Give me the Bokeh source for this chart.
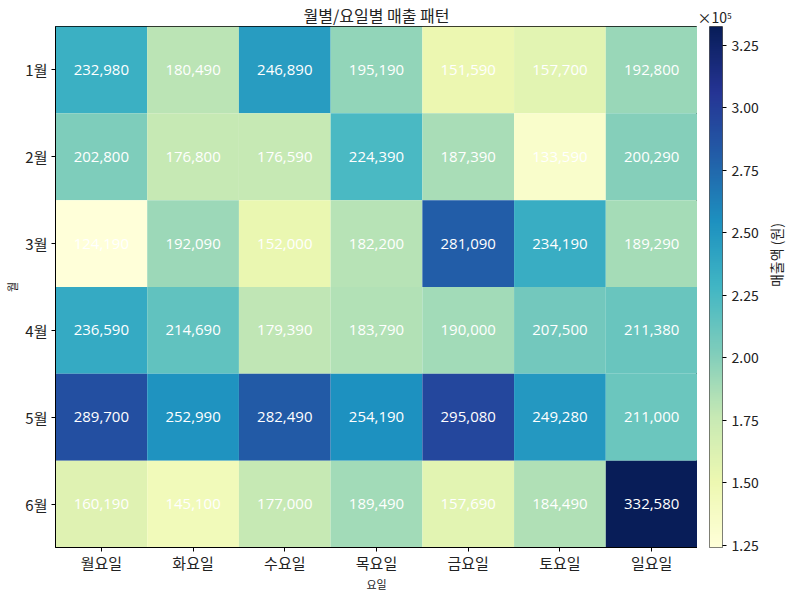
import math
import numpy as np
from bokeh.plotting import figure
from bokeh.layouts import row
from bokeh.models import (ColumnDataSource, LinearColorMapper, FactorRange, Range1d,
                          FixedTicker, CustomJSTickFormatter)
from bokeh.transform import transform
from bokeh.core.properties import value
from bokeh.embed import file_html
from bokeh.resources import INLINE

months = ["1월", "2월", "3월", "4월", "5월", "6월"]
days = ["월요일", "화요일", "수요일", "목요일", "금요일", "토요일", "일요일"]
sales = [
    [232980, 180490, 246890, 195190, 151590, 157700, 192800],
    [202800, 176800, 176590, 224390, 187390, 133590, 200290],
    [124190, 192090, 152000, 182200, 281090, 234190, 189290],
    [236590, 214690, 179390, 183790, 190000, 207500, 211380],
    [289700, 252990, 282490, 254190, 295080, 249280, 211000],
    [160190, 145100, 177000, 189490, 157690, 184490, 332580],
]
cbar_ticks = [125000, 150000, 175000, 200000, 225000, 250000, 275000, 300000, 325000]

FONT = "Noto Sans CJK KR"

# YlGnBu (matplotlib) interpolated to 256
base = ['#ffffd9', '#edf8b1', '#c7e9b4', '#7fcdbb', '#41b6c4',
        '#1d91c0', '#225ea8', '#253494', '#081d58']
rgb = np.array([[int(c[i:i + 2], 16) for i in (1, 3, 5)] for c in base], dtype=float)
pos = np.linspace(0, 1, len(base))
t = np.linspace(0, 1, 256)
pal = []
for v in t:
    r = np.interp(v, pos, rgb[:, 0]); g = np.interp(v, pos, rgb[:, 1]); b = np.interp(v, pos, rgb[:, 2])
    pal.append("#%02x%02x%02x" % (int(round(r)), int(round(g)), int(round(b))))

xs, ys, vals, labels = [], [], [], []
for i, m in enumerate(months):
    for j, d in enumerate(days):
        xs.append(d); ys.append(m); vals.append(sales[i][j]); labels.append(f"{sales[i][j]:,}")
src = ColumnDataSource(dict(x=xs, y=ys, v=vals, label=labels))

vmin = min(vals); vmax = max(vals)
mapper = LinearColorMapper(palette=pal, low=vmin, high=vmax)

H = 594
TOP = 24
BOTTOM = 45
p = figure(width=697, height=H, x_range=FactorRange(*days),
           y_range=FactorRange(*reversed(months)),
           output_backend="svg", toolbar_location=None,
           title="월별/요일별 매출 패턴",
           min_border_left=55, min_border_right=0, min_border_top=TOP, min_border_bottom=BOTTOM)
p.rect(x="x", y="y", width=1, height=1, source=src,
       fill_color=transform("v", mapper), line_color=None)
p.text(x="x", y="y", text="label", source=src, text_color="white",
       text_align="center", text_baseline="middle", text_font=value("Open Sans"),
       text_font_size="15px")
p.title.text_font = FONT
p.title.text_font_size = "16px"
p.title.text_font_style = "normal"
p.title.text_color = "#222222"
p.title.align = "center"
p.title.standoff = 0
p.grid.visible = False
p.outline_line_color = "black"
p.outline_line_width = 1
for ax in (p.xaxis[0], p.yaxis[0]):
    ax.axis_line_color = "black"
    ax.major_tick_in = 0
    ax.major_tick_out = 4
    ax.major_label_text_font = FONT
    ax.major_label_text_font_size = "15px"
    ax.major_label_text_color = "#222222"
    ax.axis_label_text_font = FONT
    ax.axis_label_text_font_size = "11px"
    ax.axis_label_text_font_style = "normal"
    ax.axis_label_text_color = "#222222"
p.xaxis.axis_label = "요일"
p.yaxis.axis_label = "월"
p.xaxis.major_label_standoff = 0
p.xaxis.axis_label_standoff = 0
p.yaxis.major_label_standoff = 4
p.yaxis.axis_label_standoff = 2
p.yaxis.major_label_orientation = "horizontal"

# colorbar figure
c = figure(width=101, height=H, x_range=Range1d(0, 1), y_range=Range1d(vmin, vmax),
           output_backend="svg", toolbar_location=None, y_axis_location="right",
           title="×10⁵",
           min_border_left=12, min_border_right=63, min_border_top=TOP, min_border_bottom=BOTTOM)
grad = np.linspace(vmin, vmax, 256).reshape(-1, 1)
c.image(image=[grad], x=0, y=vmin, dw=1, dh=vmax - vmin, color_mapper=mapper)
c.title.text_font = FONT
c.title.text_font_size = "14px"
c.title.text_font_style = "normal"
c.title.text_color = "#222222"
c.title.align = "left"
c.title.offset = -12
c.title.standoff = 0
c.xaxis.visible = False
c.grid.visible = False
c.outline_line_color = "#555555"
ya = c.yaxis[0]
ya.ticker = FixedTicker(ticks=cbar_ticks)
ya.formatter = CustomJSTickFormatter(code="return (tick/1e5).toFixed(2);")
ya.axis_line_color = None
ya.major_tick_in = 0
ya.major_tick_out = 4
ya.major_label_standoff = 5
ya.minor_tick_line_color = None
ya.major_label_text_font = FONT
ya.major_label_text_font_size = "14px"
ya.major_label_text_color = "#222222"
ya.axis_label = "매출액 (원)"
ya.axis_label_text_font = FONT
ya.axis_label_text_font_size = "14px"
ya.axis_label_text_font_style = "normal"
ya.axis_label_text_color = "#222222"
ya.axis_label_standoff = 14
try:
    ya.axis_label_orientation = math.pi / 2
except Exception:
    pass

layout = row(p, c)
open("out.html", "w").write(file_html(layout, INLINE))
